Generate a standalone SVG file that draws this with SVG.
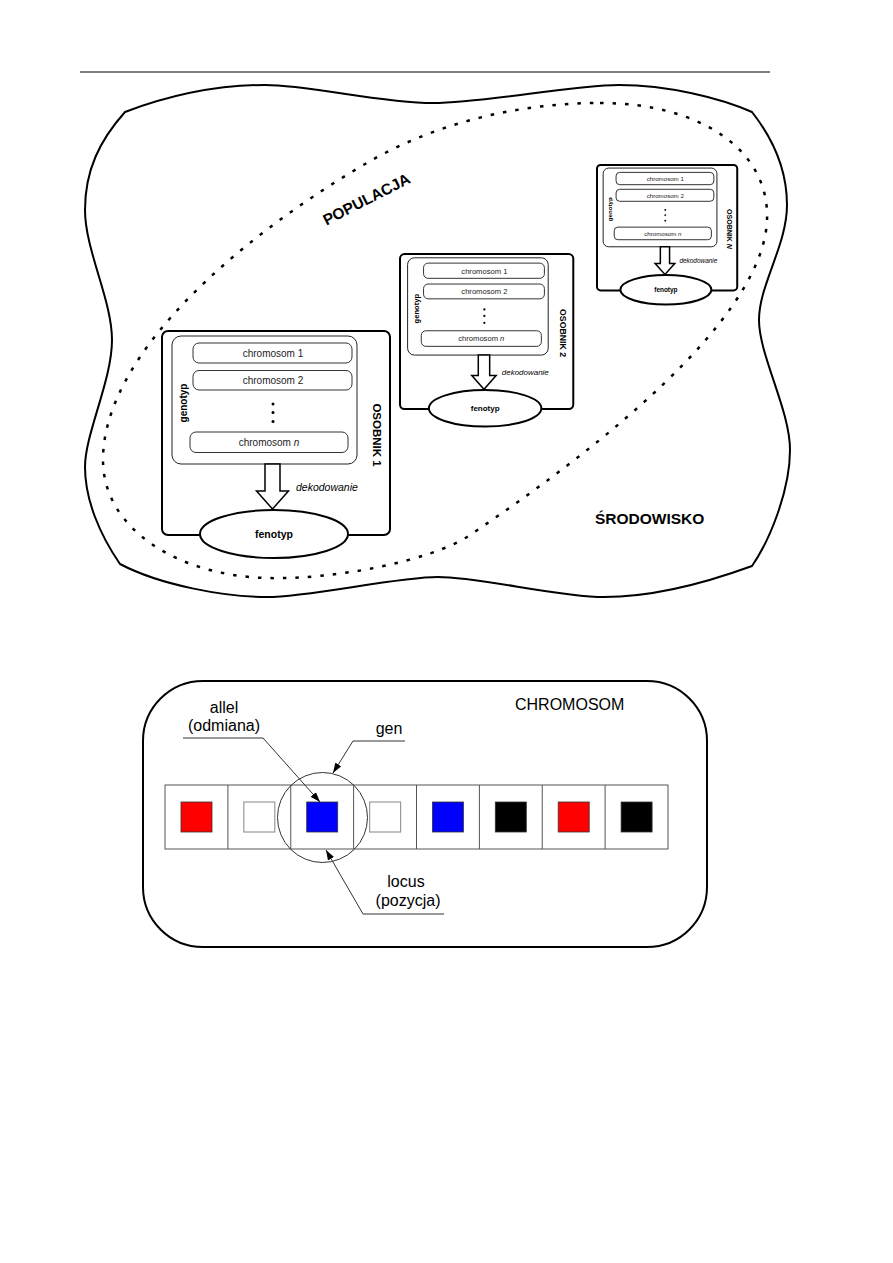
<svg xmlns="http://www.w3.org/2000/svg" width="893" height="1263" viewBox="0 0 893 1263">
<style>
text { font-family: "Liberation Sans", Arial, sans-serif; fill:#000; }
.box { fill:#fff; stroke:#000; stroke-width:2; vector-effect:non-scaling-stroke; }
.inner { fill:#fff; stroke:#222; stroke-width:1; vector-effect:non-scaling-stroke; }
.chr { fill:#fff; stroke:#333; stroke-width:1; vector-effect:non-scaling-stroke; }
.ct { font-size:10px; fill:#222; text-anchor:middle; }
.arrow { fill:#fff; stroke:#000; stroke-width:1.5; vector-effect:non-scaling-stroke; }
.pheno { fill:#fff; stroke:#000; stroke-width:2; vector-effect:non-scaling-stroke; }
.ft { font-size:10.5px; font-weight:bold; text-anchor:middle; }
.gt { font-size:10px; font-weight:bold; text-anchor:middle; }
.ot { font-size:11.5px; font-weight:bold; text-anchor:middle; }
.dk { font-size:10.5px; font-style:italic; }
.big { font-size:15.5px; font-weight:bold; }
.lbl { font-size:16px; text-anchor:middle; }
.title { font-size:16px; text-anchor:start; }
.lead { fill:none; stroke:#333; stroke-width:1; }
.cell { fill:none; stroke:#555; stroke-width:1; }
.sq { stroke:#333; stroke-width:0.8; }
.sqw { fill:#fff; stroke:#999; stroke-width:1.2; }
</style>
<defs>
<marker id="ah" viewBox="0 0 10 7" refX="10" refY="3.5" markerWidth="10" markerHeight="7" orient="auto" markerUnits="userSpaceOnUse">
<path d="M0,0 L10,3.5 L0,7 Z" fill="#000"/>
</marker>
</defs>

<line x1="80" y1="72" x2="770" y2="72" stroke="#000" stroke-width="1.2"/>

<g id="srodowisko">
<path d="M125,112 C170,95 220,85 265,85 S380,103 433,103 S570,85 619,85 S720,98 752,112 C770,135 787,165 787,205 S759,285 759,320 S790,410 790,450 S770,540 752,566 C700,585 650,597 604,597 S480,577 438,577 S310,597 267,597 S160,585 120,564 C100,535 85,500 85,467 S112,380 112,340 S85,250 85,210 S100,140 125,112 Z" fill="none" stroke="#000" stroke-width="2"/>
<text class="big" x="595" y="524">ŚRODOWISKO</text>
</g>

<g id="populacja">
<path d="M600,103 C700,103 770,150 767,220 C765,280 700,380 470,535 C430,562 330,580 267,578 C180,576 103,530 103,460 C103,350 250,230 372,160 C440,122 520,103 600,103 Z" fill="none" stroke="#000" stroke-width="2.5" stroke-dasharray="3.5 9"/>
<text class="big" text-anchor="middle" transform="translate(369,204) rotate(-27)">POPULACJA</text>
</g>

<g id="osobnik1">
<rect class="box" x="162" y="331" width="228" height="204" rx="6"/>
<rect class="inner" x="172" y="336" width="185" height="128" rx="9"/>
<rect class="chr" x="193" y="343" width="159" height="20" rx="6"/>
<text class="ct" x="273" y="357">chromosom 1</text>
<rect class="chr" x="193" y="370.5" width="159" height="19.5" rx="6"/>
<text class="ct" x="273" y="384">chromosom 2</text>
<circle cx="273" cy="404" r="1.5"/><circle cx="273" cy="412.5" r="1.5"/><circle cx="273" cy="421.5" r="1.5"/>
<rect class="chr" x="190" y="432" width="158" height="20.5" rx="6"/>
<text class="ct" x="269" y="446">chromosom <tspan font-style="italic">n</tspan></text>
<text class="gt" transform="translate(186.5,403) rotate(-90)">genotyp</text>
<polygon class="arrow" points="265,464 280,464 280,491 288.5,491 272.5,509 256.5,491 265,491"/>
<ellipse class="pheno" cx="274" cy="534" rx="74" ry="24"/>
<text class="ft" x="274" y="538">fenotyp</text>
<text class="dk" x="296" y="490.5">dekodowanie</text>
<text class="ot" transform="translate(373,435) rotate(90)">OSOBNIK 1</text>
</g>

<g id="osobnik2" transform="translate(400,254) scale(0.76) translate(-162,-331)">
<rect class="box" x="162" y="331" width="228" height="204" rx="6"/>
<rect class="inner" x="172" y="336" width="185" height="128" rx="9"/>
<rect class="chr" x="193" y="343" width="159" height="20" rx="6"/>
<text class="ct" x="273" y="357">chromosom 1</text>
<rect class="chr" x="193" y="370.5" width="159" height="19.5" rx="6"/>
<text class="ct" x="273" y="384">chromosom 2</text>
<circle cx="273" cy="404" r="1.5"/><circle cx="273" cy="412.5" r="1.5"/><circle cx="273" cy="421.5" r="1.5"/>
<rect class="chr" x="190" y="432" width="158" height="20.5" rx="6"/>
<text class="ct" x="269" y="446">chromosom <tspan font-style="italic">n</tspan></text>
<text class="gt" transform="translate(186.5,403) rotate(-90)">genotyp</text>
<polygon class="arrow" points="265,464 280,464 280,491 288.5,491 272.5,509 256.5,491 265,491"/>
<ellipse class="pheno" cx="274" cy="534" rx="74" ry="24"/>
<text class="ft" x="274" y="538">fenotyp</text>
<text class="dk" x="296" y="490.5">dekodowanie</text>
<text class="ot" transform="translate(373,435) rotate(90)">OSOBNIK 2</text>
</g>

<g id="osobnikN" transform="translate(597,165) scale(0.615) translate(-162,-331)">
<rect class="box" x="162" y="331" width="228" height="204" rx="6"/>
<rect class="inner" x="172" y="336" width="185" height="128" rx="9"/>
<rect class="chr" x="193" y="343" width="159" height="20" rx="6"/>
<text class="ct" x="273" y="357">chromosom 1</text>
<rect class="chr" x="193" y="370.5" width="159" height="19.5" rx="6"/>
<text class="ct" x="273" y="384">chromosom 2</text>
<circle cx="273" cy="404" r="1.5"/><circle cx="273" cy="412.5" r="1.5"/><circle cx="273" cy="421.5" r="1.5"/>
<rect class="chr" x="190" y="432" width="158" height="20.5" rx="6"/>
<text class="ct" x="269" y="446">chromosom <tspan font-style="italic">n</tspan></text>
<text class="gt" transform="translate(186.5,403) rotate(-90)">genotyp</text>
<polygon class="arrow" points="265,464 280,464 280,491 288.5,491 272.5,509 256.5,491 265,491"/>
<ellipse class="pheno" cx="274" cy="534" rx="74" ry="24"/>
<text class="ft" x="274" y="538">fenotyp</text>
<text class="dk" x="296" y="490.5">dekodowanie</text>
<text class="ot" transform="translate(373,435) rotate(90)">OSOBNIK <tspan font-style="italic">N</tspan></text>
</g>

<g id="chromosom">
<rect x="143" y="681" width="564" height="266" rx="60" ry="60" fill="none" stroke="#000" stroke-width="2"/>
<text class="title" x="515" y="710">CHROMOSOM</text>
<rect class="cell" x="165" y="785" width="503" height="64"/>
<path class="cell" d="M227.9,785 V849 M290.75,785 V849 M353.6,785 V849 M416.5,785 V849 M479.4,785 V849 M542.25,785 V849 M605.1,785 V849"/>
<rect class="sq" x="181" y="802" width="31" height="30" fill="#ff0000"/>
<rect class="sqw" x="243.8" y="802" width="31" height="30"/>
<rect class="sq" x="306.7" y="802" width="31" height="30" fill="#0000ff"/>
<rect class="sqw" x="369.6" y="802" width="31" height="30"/>
<rect class="sq" x="432.4" y="802" width="31" height="30" fill="#0000ff"/>
<rect class="sq" x="495.3" y="802" width="31" height="30" fill="#000"/>
<rect class="sq" x="558.2" y="802" width="31" height="30" fill="#ff0000"/>
<rect class="sq" x="621.1" y="802" width="31" height="30" fill="#000"/>
<circle cx="322.5" cy="817.5" r="45" fill="none" stroke="#333" stroke-width="1"/>
<text class="lbl" x="224" y="713">allel</text>
<text class="lbl" x="224" y="731">(odmiana)</text>
<text class="lbl" x="389" y="734">gen</text>
<text class="lbl" x="406" y="887">locus</text>
<text class="lbl" x="408" y="906">(pozycja)</text>
</g>

<g id="connectors">
<polyline class="lead" points="183,738 263,738 320,802" marker-end="url(#ah)"/>
<polyline class="lead" points="405,741 353,741 333,773" marker-end="url(#ah)"/>
<polyline class="lead" points="444,914 363,914 326,850" marker-end="url(#ah)"/>
</g>
</svg>
